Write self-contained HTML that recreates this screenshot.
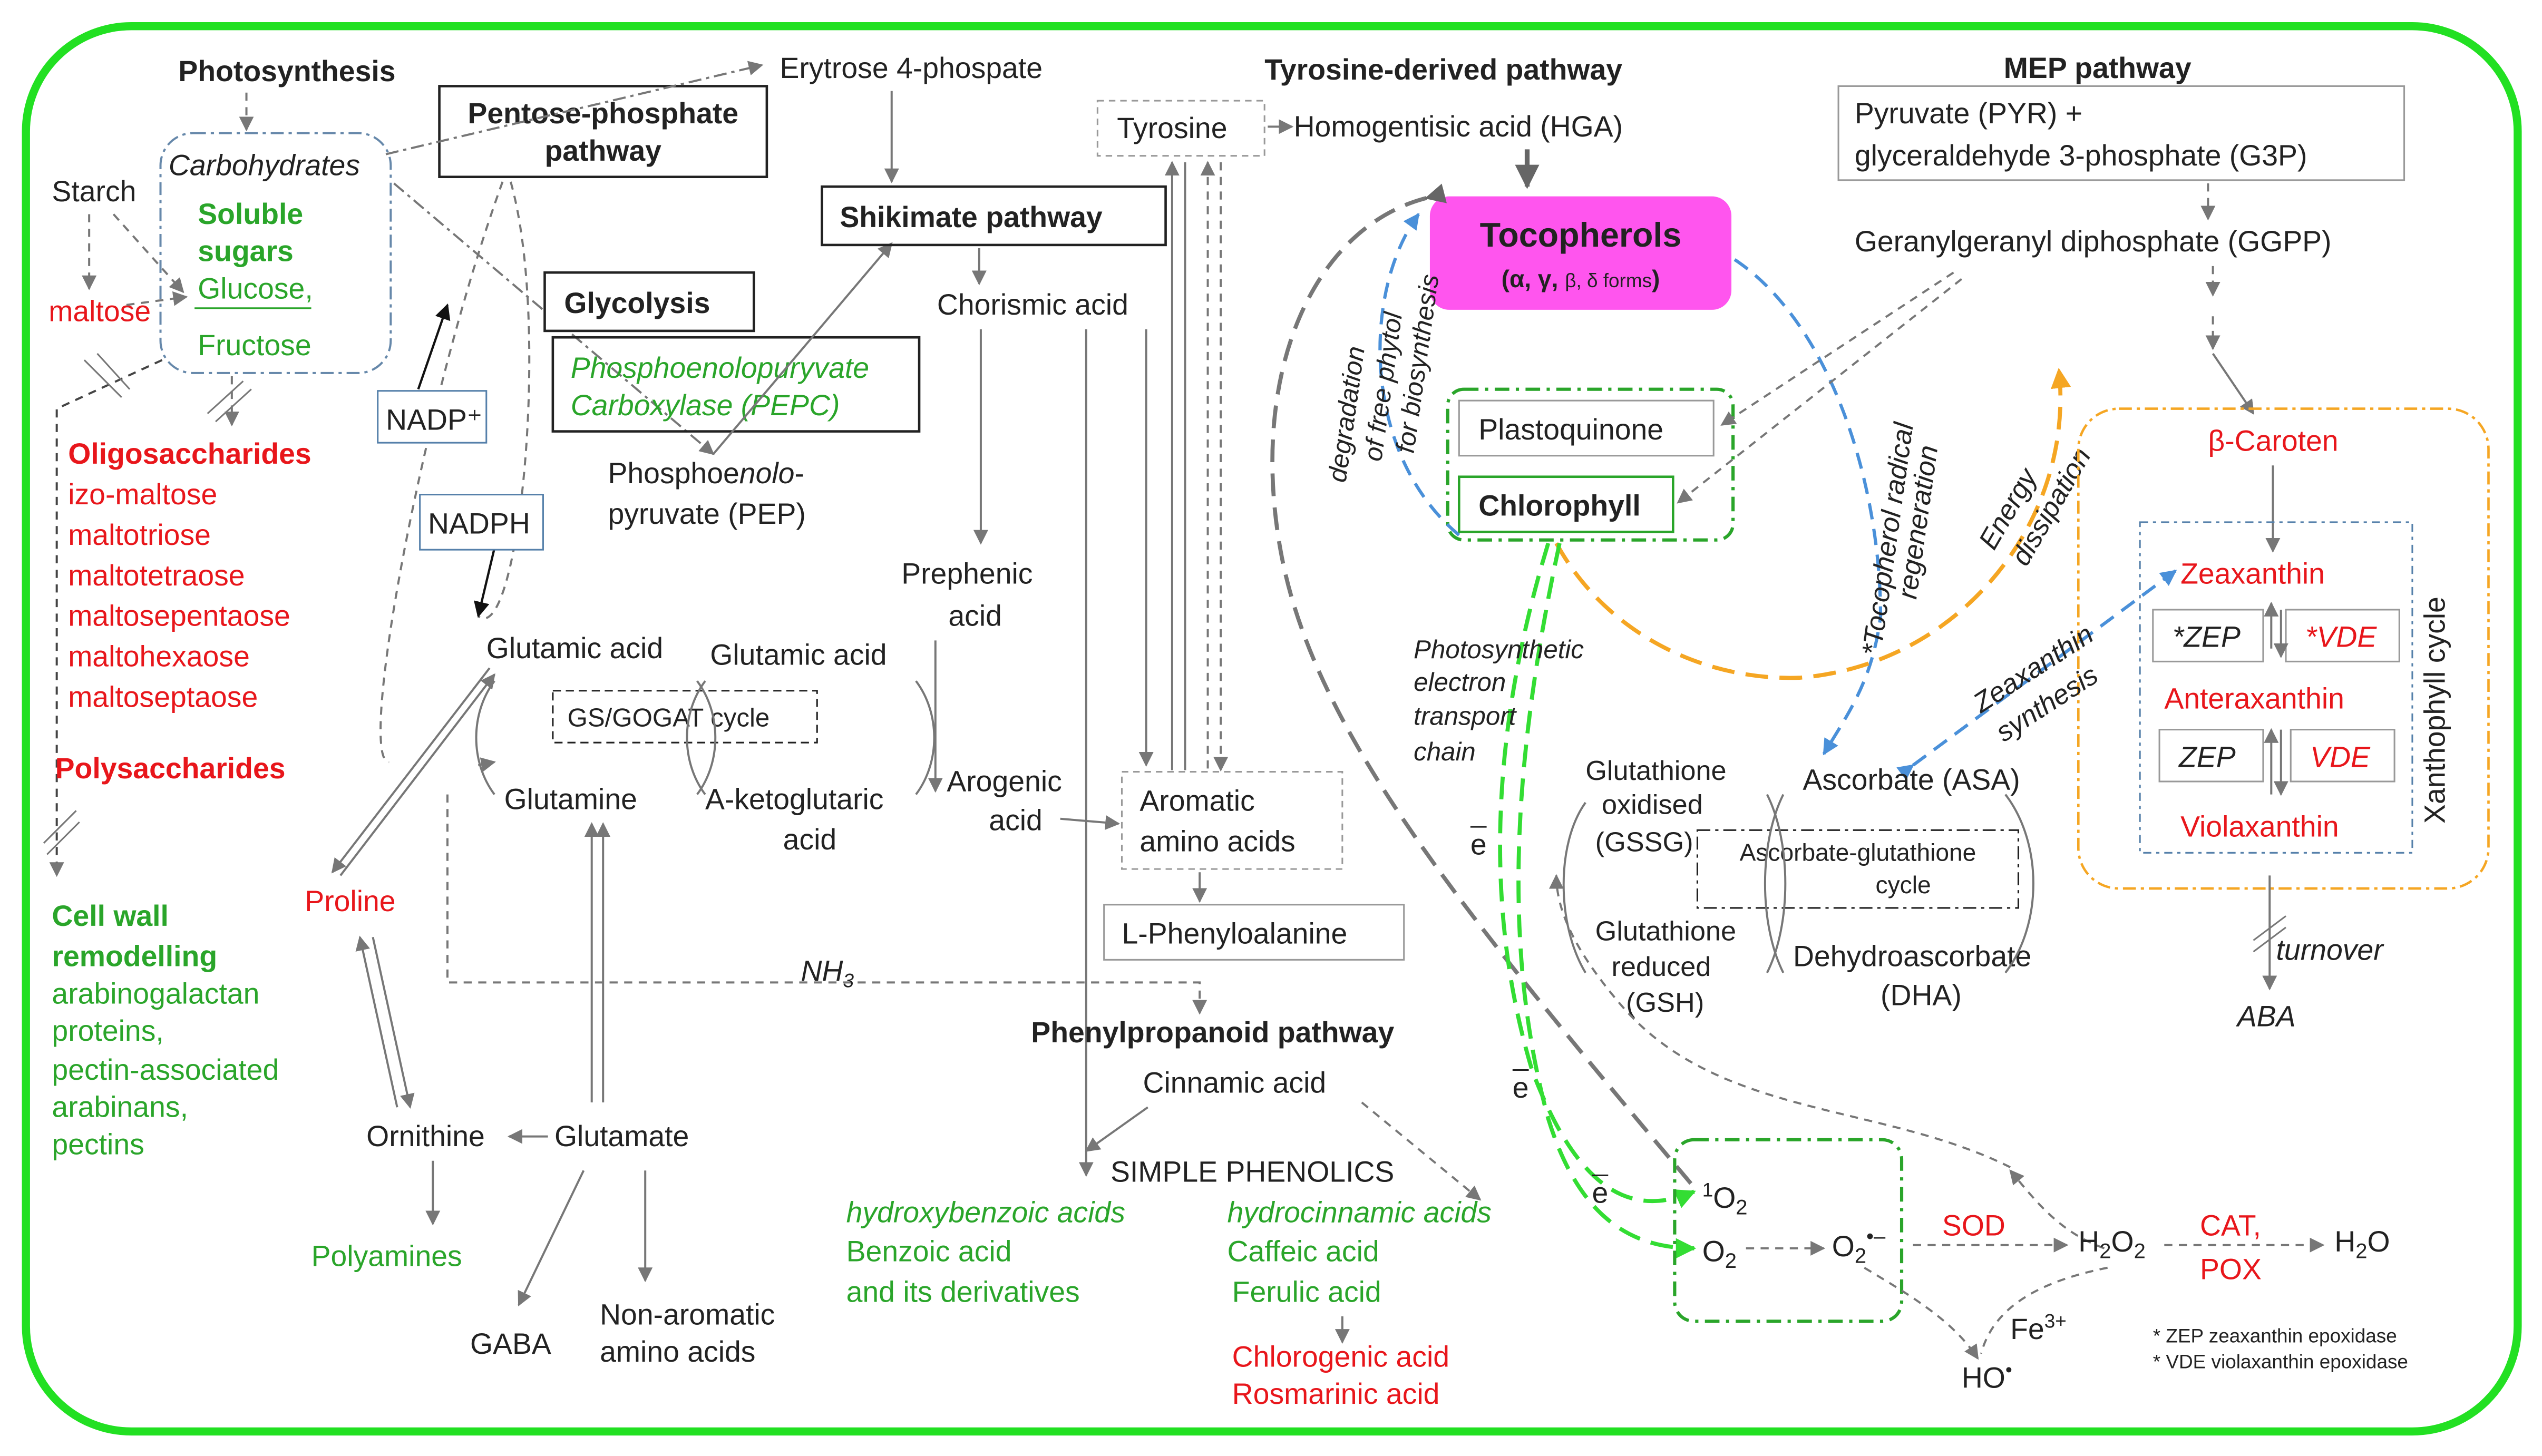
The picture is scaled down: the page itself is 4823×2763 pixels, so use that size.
<!DOCTYPE html>
<html><head><meta charset="utf-8"><style>
html,body{margin:0;padding:0;background:#fff;}
svg{display:block;font-family:"Liberation Sans",sans-serif;font-size:18px;}
text{fill:#222;}
.b{font-weight:bold;}
.r{fill:#e8161b;}
.g{fill:#2aa52a;}
.i{font-style:italic;}
.ln{stroke:#777;stroke-width:1.3;fill:none;}
.d{stroke:#777;stroke-width:1.3;fill:none;stroke-dasharray:5,4;}
</style></head><body>
<svg width="4823" height="2763" viewBox="0 0 1568 898" xmlns="http://www.w3.org/2000/svg">
<defs>
<marker id="a" viewBox="0 0 10 10" refX="9" refY="5" markerWidth="7" markerHeight="7" orient="auto-start-reverse"><path d="M0,0L10,5L0,10z" fill="#777"/></marker>
<marker id="ab" viewBox="0 0 10 10" refX="9" refY="5" markerWidth="7" markerHeight="7" orient="auto"><path d="M0,0L10,5L0,10z" fill="#111"/></marker>
<marker id="ag" viewBox="0 0 10 10" refX="9" refY="5" markerWidth="5" markerHeight="5" orient="auto"><path d="M0,0L10,5L0,10z" fill="#33dd33"/></marker>
<marker id="abl" viewBox="0 0 10 10" refX="9" refY="5" markerWidth="5" markerHeight="5" orient="auto"><path d="M0,0L10,5L0,10z" fill="#4a90d9"/></marker>
<marker id="ao" viewBox="0 0 10 10" refX="9" refY="5" markerWidth="5" markerHeight="5" orient="auto"><path d="M0,0L10,5L0,10z" fill="#f5a623"/></marker>
<marker id="agr" viewBox="0 0 10 10" refX="9" refY="5" markerWidth="5" markerHeight="5" orient="auto"><path d="M0,0L10,5L0,10z" fill="#666"/></marker>
</defs>
<rect x="16" y="16" width="1537" height="867" rx="65" fill="none" stroke="#22e022" stroke-width="5"/>

<text x="110" y="50" class="b">Photosynthesis</text>
<line x1="152" y1="57" x2="152" y2="80" class="d" marker-end="url(#a)"/>
<rect x="99" y="82" width="142" height="148" rx="20" fill="none" stroke="#6688aa" stroke-width="1.3" stroke-dasharray="8,3,2,3"/>
<text x="104" y="108" class="i">Carbohydrates</text>
<text x="32" y="124">Starch</text>
<text x="122" y="138" class="b g">Soluble</text>
<text x="122" y="161" class="b g">sugars</text>
<text x="122" y="184" class="g">Glucose,</text>
<line x1="120" y1="190" x2="192" y2="190" stroke="#2aa52a" stroke-width="1"/>
<text x="122" y="219" class="g">Fructose</text>
<text x="30" y="198" class="r">maltose</text>
<line x1="55" y1="132" x2="55" y2="178" class="d" marker-end="url(#a)"/>
<line x1="70" y1="132" x2="113" y2="180" class="d" marker-end="url(#a)"/>
<line x1="78" y1="188" x2="115" y2="183" class="d" marker-end="url(#a)"/>
<path d="M100,222 L35,252 L35,540" fill="none" stroke="#444" stroke-width="1.3" stroke-dasharray="5,4" marker-end="url(#a)"/>
<line x1="52" y1="222" x2="75" y2="245" stroke="#777"/><line x1="60" y1="218" x2="80" y2="240" stroke="#777"/>
<line x1="143" y1="232" x2="143" y2="262" class="d" marker-end="url(#a)"/>
<line x1="128" y1="255" x2="150" y2="235" stroke="#777"/><line x1="133" y1="260" x2="155" y2="240" stroke="#777"/>
<text x="42" y="286" class="b r">Oligosaccharides</text>
<text x="42" y="311" class="r">izo-maltose</text>
<text x="42" y="336" class="r">maltotriose</text>
<text x="42" y="361" class="r">maltotetraose</text>
<text x="42" y="386" class="r">maltosepentaose</text>
<text x="42" y="411" class="r">maltohexaose</text>
<text x="42" y="436" class="r">maltoseptaose</text>
<text x="34" y="480" class="b r">Polysaccharides</text>
<line x1="27" y1="520" x2="47" y2="500" stroke="#777"/><line x1="29" y1="527" x2="49" y2="507" stroke="#777"/>
<text x="32" y="571" class="b g">Cell  wall</text>
<text x="32" y="596" class="b g">remodelling</text>
<text x="32" y="619" class="g">arabinogalactan</text>
<text x="32" y="642" class="g">proteins,</text>
<text x="32" y="666" class="g">pectin-associated</text>
<text x="32" y="689" class="g">arabinans,</text>
<text x="32" y="712" class="g">pectins</text>

<rect x="271" y="53" width="202" height="56" fill="none" stroke="#222" stroke-width="1.5"/>
<text x="372" y="76" text-anchor="middle" class="b">Pentose-phosphate</text>
<text x="372" y="99" text-anchor="middle" class="b">pathway</text>
<line x1="238" y1="95" x2="470" y2="40" stroke="#777" stroke-width="1.3" stroke-dasharray="8,3,2,3" marker-end="url(#a)"/>
<line x1="243" y1="113" x2="440" y2="280" stroke="#777" stroke-width="1.3" stroke-dasharray="8,3,2,3" marker-end="url(#a)"/>
<path d="M310,112 C260,250 220,470 240,470" class="d"/>
<path d="M315,112 C340,200 320,400 295,380" class="d"/>
<line x1="258" y1="240" x2="276" y2="188" stroke="#111" stroke-width="1.4" marker-end="url(#ab)"/>
<line x1="305" y1="338" x2="295" y2="380" stroke="#111" stroke-width="1.4" marker-end="url(#ab)"/>
<rect x="233" y="241" width="67" height="32" fill="#fff" stroke="#5580aa"/>
<text x="238" y="265">NADP⁺</text>
<rect x="259" y="305" width="76" height="34" fill="#fff" stroke="#5580aa"/>
<text x="264" y="329">NADPH</text>
<rect x="336" y="168" width="129" height="36" fill="#fff" stroke="#222" stroke-width="1.5"/>
<text x="348" y="193" class="b">Glycolysis</text>
<rect x="341" y="208" width="226" height="58" fill="none" stroke="#222" stroke-width="1.5"/>
<text x="352" y="233" class="i g">Phosphoenolopuryvate</text>
<text x="352" y="256" class="i g">Carboxylase (PEPC)</text>
<text x="375" y="298">Phosphoe<tspan class="i">nolo</tspan>-</text>
<text x="375" y="323">pyruvate  (PEP)</text>
<line x1="440" y1="280" x2="550" y2="150" class="ln" marker-end="url(#a)"/>

<text x="481" y="48">Erytrose 4-phospate</text>
<line x1="550" y1="56" x2="550" y2="112" class="ln" marker-end="url(#a)"/>
<rect x="507" y="115" width="212" height="36" fill="none" stroke="#222" stroke-width="1.5"/>
<text x="518" y="140" class="b">Shikimate  pathway</text>
<line x1="604" y1="153" x2="604" y2="175" class="ln" marker-end="url(#a)"/>
<text x="578" y="194">Chorismic  acid</text>
<line x1="605" y1="203" x2="605" y2="335" class="ln" marker-end="url(#a)"/>
<text x="556" y="360">Prephenic</text>
<text x="585" y="386">acid</text>
<line x1="577" y1="395" x2="577" y2="488" class="ln" marker-end="url(#a)"/>
<text x="584" y="488">Arogenic</text>
<text x="610" y="512">acid</text>
<line x1="654" y1="505" x2="690" y2="508" class="ln" marker-end="url(#a)"/>
<line x1="707" y1="203" x2="707" y2="472" class="ln" marker-end="url(#a)"/>
<line x1="670" y1="203" x2="670" y2="725" class="ln" marker-end="url(#a)"/>
<rect x="677" y="62" width="103" height="34" fill="#fff" stroke="#999" stroke-dasharray="4,3"/>
<text x="689" y="85">Tyrosine</text>
<line x1="782" y1="78" x2="797" y2="78" class="ln" marker-end="url(#a)"/>
<line x1="723" y1="475" x2="723" y2="100" class="ln" marker-end="url(#a)"/>
<line x1="731" y1="100" x2="731" y2="475" class="ln"/>
<line x1="745" y1="100" x2="745" y2="475" class="d" marker-start="url(#a)"/>
<line x1="753" y1="100" x2="753" y2="475" class="d" marker-end="url(#a)"/>
<rect x="692" y="476" width="136" height="60" fill="#fff" stroke="#999" stroke-dasharray="4,3"/>
<text x="703" y="500">Aromatic</text>
<text x="703" y="525">amino  acids</text>
<line x1="740" y1="538" x2="740" y2="556" class="ln" marker-end="url(#a)"/>
<rect x="681" y="558" width="185" height="34" fill="#fff" stroke="#999"/>
<text x="692" y="582">L-Phenyloalanine</text>
<path d="M276,490 L276,606 L740,606 L740,625" class="d" marker-end="url(#a)"/>
<text x="494" y="605" class="i">NH<tspan font-size="12" dy="4">3</tspan></text>

<text x="300" y="406">Glutamic  acid</text>
<text x="438" y="410">Glutamic  acid</text>
<rect x="341" y="426" width="163" height="32" fill="none" stroke="#222" stroke-dasharray="5,3"/>
<text x="350" y="448" font-size="16">GS/GOGAT cycle</text>
<text x="311" y="499">Glutamine</text>
<text x="435" y="499">A-ketoglutaric</text>
<text x="483" y="524">acid</text>
<path d="M305,420 C290,440 290,470 305,490" class="ln"/>
<path d="M435,420 C420,440 420,470 435,490" class="ln"/>
<path d="M430,420 C445,440 445,470 430,490" class="ln"/>
<path d="M565,420 C580,440 580,470 565,490" class="ln"/>
<line x1="295" y1="472" x2="305" y2="470" class="ln" marker-end="url(#a)"/>
<line x1="302" y1="412" x2="205" y2="538" class="ln" marker-end="url(#a)"/>
<line x1="210" y1="540" x2="305" y2="416" class="ln" marker-end="url(#a)"/>
<text x="188" y="562" class="r">Proline</text>
<line x1="222" y1="578" x2="245" y2="683" class="ln" marker-start="url(#a)"/>
<line x1="230" y1="578" x2="253" y2="683" class="ln" marker-end="url(#a)"/>
<text x="226" y="707">Ornithine</text>
<line x1="338" y1="701" x2="314" y2="701" class="ln" marker-end="url(#a)"/>
<text x="342" y="707">Glutamate</text>
<line x1="365" y1="508" x2="365" y2="680" class="ln" marker-start="url(#a)"/>
<line x1="372" y1="508" x2="372" y2="680" class="ln" marker-start="url(#a)"/>
<line x1="267" y1="716" x2="267" y2="755" class="ln" marker-end="url(#a)"/>
<text x="192" y="781" class="g">Polyamines</text>
<line x1="360" y1="722" x2="320" y2="805" class="ln" marker-end="url(#a)"/>
<line x1="398" y1="722" x2="398" y2="790" class="ln" marker-end="url(#a)"/>
<text x="290" y="835">GABA</text>
<text x="370" y="817">Non-aromatic</text>
<text x="370" y="840">amino acids</text>

<text x="636" y="643" class="b">Phenylpropanoid  pathway</text>
<text x="705" y="674">Cinnamic  acid</text>
<line x1="708" y1="683" x2="670" y2="710" class="ln" marker-end="url(#a)"/>
<line x1="840" y1="680" x2="913" y2="740" class="d" marker-end="url(#a)"/>
<text x="685" y="729">SIMPLE  PHENOLICS</text>
<text x="522" y="754" class="i g">hydroxybenzoic  acids</text>
<text x="522" y="778" class="g">Benzoic  acid</text>
<text x="522" y="803" class="g">and  its derivatives</text>
<text x="757" y="754" class="i g">hydrocinnamic  acids</text>
<text x="757" y="778" class="g">Caffeic  acid</text>
<text x="760" y="803" class="g">Ferulic  acid</text>
<line x1="828" y1="812" x2="828" y2="828" class="ln" marker-end="url(#a)"/>
<text x="760" y="843" class="r">Chlorogenic acid</text>
<text x="760" y="866" class="r">Rosmarinic acid</text>

<text x="780" y="49" class="b">Tyrosine-derived  pathway</text>
<text x="798" y="84">Homogentisic  acid (HGA)</text>
<line x1="942" y1="92" x2="942" y2="115" stroke="#666" stroke-width="3" marker-end="url(#agr)"/>
<rect x="882" y="121" width="186" height="70" rx="12" fill="#ff55ee"/>
<text x="975" y="152" text-anchor="middle" class="b" font-size="21">Tocopherols</text>
<text x="975" y="177" text-anchor="middle" class="b" font-size="15">(α, γ, <tspan font-size="12" font-weight="normal">β, δ forms</tspan>)</text>
<rect x="893" y="240" width="176" height="93" rx="10" fill="none" stroke="#2aa52a" stroke-width="2" stroke-dasharray="9,4,2,4"/>
<rect x="900" y="247" width="157" height="34" fill="#fff" stroke="#999"/>
<text x="912" y="271">Plastoquinone</text>
<rect x="900" y="294" width="132" height="34" fill="#fff" stroke="#2aa52a" stroke-width="1.5"/>
<text x="912" y="318" class="b">Chlorophyll</text>
<path d="M880,122 C810,140 770,230 790,340 C810,450 900,560 1043,730" fill="none" stroke="#777" stroke-width="2.5" stroke-dasharray="14,7" marker-start="url(#agr)"/>
<path d="M900,330 C840,280 840,180 875,132" fill="none" stroke="#4a90d9" stroke-width="2" stroke-dasharray="10,6" marker-end="url(#abl)"/>
<text transform="translate(830,298) rotate(-82)" class="i" font-size="16">degradation</text>
<text transform="translate(852,285) rotate(-82)" class="i" font-size="16">of free phytol</text>
<text transform="translate(872,280) rotate(-82)" class="i" font-size="16">for biosynthesis</text>
<path d="M1070,160 C1130,200 1160,300 1160,380 C1155,420 1140,440 1125,465" fill="none" stroke="#4a90d9" stroke-width="2" stroke-dasharray="10,6" marker-end="url(#abl)"/>
<text transform="translate(1160,405) rotate(-82)" class="i" font-size="17">*Tocopherol radical</text>
<text transform="translate(1182,370) rotate(-82)" class="i" font-size="17">regeneration</text>
<path d="M960,335 C990,390 1050,420 1110,418 C1210,410 1280,320 1270,228" fill="none" stroke="#f5a623" stroke-width="2.5" stroke-dasharray="14,7" marker-end="url(#ao)"/>
<text transform="translate(1230,340) rotate(-60)" class="i" font-size="17">Energy</text>
<text transform="translate(1250,350) rotate(-60)" class="i" font-size="17">dissipation</text>
<path d="M955,335 C920,450 915,560 945,660 C975,740 1010,750 1045,735" fill="none" stroke="#33dd33" stroke-width="2.5" stroke-dasharray="14,7" marker-end="url(#ag)"/>
<path d="M962,335 C935,460 925,580 955,690 C975,755 1010,770 1045,770" fill="none" stroke="#33dd33" stroke-width="2.5" stroke-dasharray="14,7" marker-end="url(#ag)"/>
<text x="872" y="406" class="i" font-size="16">Photosynthetic</text>
<text x="872" y="426" class="i" font-size="16">electron</text>
<text x="872" y="447" class="i" font-size="16">transport</text>
<text x="872" y="469" class="i" font-size="16">chain</text>
<text x="907" y="527">e</text><line x1="907" y1="510" x2="917" y2="510" stroke="#222"/>
<text x="933" y="677">e</text><line x1="933" y1="660" x2="943" y2="660" stroke="#222"/>
<text x="982" y="742">e</text><line x1="982" y1="725" x2="992" y2="725" stroke="#222"/>

<text x="1236" y="48" class="b">MEP pathway</text>
<rect x="1134" y="53" width="349" height="58" fill="none" stroke="#999"/>
<text x="1144" y="76">Pyruvate (PYR) +</text>
<text x="1144" y="102">glyceraldehyde  3-phosphate  (G3P)</text>
<line x1="1362" y1="113" x2="1362" y2="135" class="d" marker-end="url(#a)"/>
<text x="1144" y="155">Geranylgeranyl  diphosphate  (GGPP)</text>
<line x1="1365" y1="164" x2="1365" y2="182" class="d" marker-end="url(#a)"/>
<line x1="1365" y1="195" x2="1365" y2="215" class="d" marker-end="url(#a)"/>
<line x1="1365" y1="218" x2="1390" y2="255" class="ln" marker-end="url(#a)"/>
<line x1="1205" y1="168" x2="1062" y2="262" class="d" marker-end="url(#a)"/>
<line x1="1210" y1="172" x2="1035" y2="310" class="d" marker-end="url(#a)"/>
<rect x="1282" y="252" width="253" height="296" rx="25" fill="none" stroke="#f5a623" stroke-width="1.5" stroke-dasharray="8,3,2,3"/>
<text x="1362" y="278" class="r">β-Caroten</text>
<line x1="1402" y1="287" x2="1402" y2="340" class="ln" marker-end="url(#a)"/>
<rect x="1320" y="322" width="168" height="204" fill="none" stroke="#5580aa" stroke-dasharray="5,3,2,3"/>
<text x="1345" y="360" class="r">Zeaxanthin</text>
<rect x="1328" y="376" width="68" height="32" fill="#fff" stroke="#999"/>
<text x="1340" y="399" class="i">*ZEP</text>
<rect x="1410" y="376" width="70" height="32" fill="#fff" stroke="#999"/>
<text x="1422" y="399" class="i r">*VDE</text>
<line x1="1401" y1="400" x2="1401" y2="372" class="ln" marker-end="url(#a)"/>
<line x1="1407" y1="376" x2="1407" y2="405" class="ln" marker-end="url(#a)"/>
<text x="1335" y="437" class="r">Anteraxanthin</text>
<rect x="1332" y="450" width="64" height="32" fill="#fff" stroke="#999"/>
<text x="1344" y="473" class="i">ZEP</text>
<rect x="1413" y="450" width="64" height="32" fill="#fff" stroke="#999"/>
<text x="1425" y="473" class="i r">VDE</text>
<line x1="1401" y1="490" x2="1401" y2="450" class="ln" marker-end="url(#a)"/>
<line x1="1407" y1="450" x2="1407" y2="490" class="ln" marker-end="url(#a)"/>
<text x="1345" y="516" class="r">Violaxanthin</text>
<text transform="translate(1508,508) rotate(-90)">Xanthophyll cycle</text>
<line x1="1400" y1="540" x2="1400" y2="610" class="ln" marker-end="url(#a)"/>
<line x1="1390" y1="580" x2="1410" y2="565" stroke="#777"/><line x1="1390" y1="587" x2="1410" y2="572" stroke="#777"/>
<text x="1404" y="592" class="i">turnover</text>
<text x="1380" y="633" class="i">ABA</text>
<line x1="1180" y1="472" x2="1342" y2="352" stroke="#4a90d9" stroke-width="2" stroke-dasharray="10,6" marker-start="url(#abl)" marker-end="url(#abl)"/>
<text transform="translate(1222,440) rotate(-33)" class="i" font-size="17">Zeaxanthin</text>
<text transform="translate(1236,458) rotate(-33)" class="i" font-size="17">synthesis</text>

<text x="978" y="481" font-size="17">Glutathione</text>
<text x="988" y="502" font-size="17">oxidised</text>
<text x="984" y="525" font-size="17">(GSSG)</text>
<text x="1112" y="487">Ascorbate (ASA)</text>
<rect x="1047" y="512" width="198" height="48" fill="none" stroke="#222" stroke-dasharray="8,3,2,3"/>
<text x="1146" y="531" text-anchor="middle" font-size="15">Ascorbate-glutathione</text>
<text x="1174" y="551" text-anchor="middle" font-size="15">cycle</text>
<text x="984" y="580" font-size="17">Glutathione</text>
<text x="994" y="602" font-size="17">reduced</text>
<text x="1003" y="624" font-size="17">(GSH)</text>
<text x="1106" y="596">Dehydroascorbate</text>
<text x="1160" y="620">(DHA)</text>
<path d="M978,495 C960,520 960,570 978,600" class="ln"/>
<path d="M1100,490 C1085,520 1085,570 1100,600" class="ln"/>
<path d="M1090,490 C1105,520 1105,570 1090,600" class="ln"/>
<path d="M1237,490 C1260,520 1260,570 1237,600" class="ln"/>
<path d="M1298,770 C1270,760 1255,740 1240,722" class="d" marker-end="url(#a)"/>
<path d="M1240,720 C1160,680 1060,690 1000,620 C970,585 960,560 960,540" class="d" marker-end="url(#a)"/>

<rect x="1033" y="703" width="140" height="112" rx="12" fill="none" stroke="#2aa52a" stroke-width="2" stroke-dasharray="9,4,2,4"/>
<text x="1050" y="745"><tspan font-size="12" dy="-7">1</tspan><tspan dy="7">O</tspan><tspan font-size="13" dy="4">2</tspan></text>
<text x="1050" y="778">O<tspan font-size="13" dy="4">2</tspan></text>
<line x1="1077" y1="770" x2="1125" y2="770" class="d" marker-end="url(#a)"/>
<text x="1130" y="775">O<tspan font-size="13" dy="4">2</tspan><tspan dy="-12" font-size="13">•–</tspan></text>
<line x1="1180" y1="768" x2="1275" y2="768" class="d" marker-end="url(#a)"/>
<text x="1198" y="762" class="r">SOD</text>
<text x="1282" y="772">H<tspan font-size="13" dy="4">2</tspan><tspan dy="-4">O</tspan><tspan font-size="13" dy="4">2</tspan></text>
<line x1="1335" y1="768" x2="1433" y2="768" class="d" marker-end="url(#a)"/>
<text x="1357" y="762" class="r">CAT,</text>
<text x="1357" y="789" class="r">POX</text>
<text x="1440" y="772">H<tspan font-size="13" dy="4">2</tspan><tspan dy="-4">O</tspan></text>
<path d="M1150,782 C1180,800 1205,815 1220,838" class="d" marker-end="url(#a)"/>
<path d="M1300,782 C1260,790 1230,805 1222,835" class="d"/>
<text x="1240" y="826">Fe<tspan font-size="12" dy="-7">3+</tspan></text>
<text x="1210" y="856">HO<tspan font-size="12" dy="-7">•</tspan></text>
<text x="1328" y="828" font-size="12">* ZEP  zeaxanthin epoxidase</text>
<text x="1328" y="844" font-size="12">* VDE  violaxanthin epoxidase</text>
</svg>
</body></html>
